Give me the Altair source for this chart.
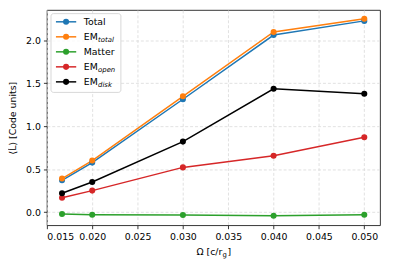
import altair as alt
import pandas as pd

# ---- data ----
omega = [0.01667, 0.020, 0.030, 0.040, 0.050]
total = [0.370, 0.576, 1.313, 2.060, 2.225]
em_total = [0.390, 0.600, 1.347, 2.096, 2.250]
matter = [-0.023, -0.030, -0.034, -0.042, -0.030]
em_open = [0.167, 0.250, 0.520, 0.656, 0.870]
em_disk = [0.220, 0.350, 0.820, 1.435, 1.378]

series_names = ["Total", "EM_total", "Matter", "EM_open", "EM_disk"]
series_main = ["Total", "EM", "Matter", "EM", "EM"]
series_sub = ["", "total", "", "open", "disk"]
series_colors = ["#1f77b4", "#ff7f0e", "#2ca02c", "#d62728", "#000000"]

x_ticks = [0.015, 0.020, 0.025, 0.030, 0.035, 0.040, 0.045, 0.050]
y_ticks = [0.0, 0.5, 1.0, 1.5, 2.0]

FONT = "DejaVu Sans"
W, H = 338.5, 218.7

rows = []
for name, vals in zip(series_names, [total, em_total, matter, em_open, em_disk]):
    for o, v in zip(omega, vals):
        rows.append({"series": name, "omega": o, "L": v, "order": series_names.index(name)})
df = pd.DataFrame(rows)

color = alt.Color("series:N", scale=alt.Scale(domain=series_names, range=series_colors), legend=None)

x_enc = alt.X("omega:Q", scale=alt.Scale(domain=[0.015, 0.05174], nice=False, zero=False),
              axis=alt.Axis(values=x_ticks, format=".3f", title=None, grid=True))
y_enc = alt.Y("L:Q", scale=alt.Scale(domain=[-0.1535, 2.3517], nice=False, zero=False),
              axis=alt.Axis(values=y_ticks, format=".1f", title="⟨L̇⟩ [Code units]",
                            titleX=-34.5, titleY=H / 2, titleAngle=-90,
                            titleAlign="center", titleBaseline="middle", grid=True))

base = alt.Chart(df)
lines = base.mark_line(strokeWidth=1.5).encode(x=x_enc, y=y_enc, color=color, detail="series:N")
points = base.mark_point(filled=True, size=38, opacity=1, shape="circle").encode(
    x="omega:Q", y="L:Q", color=color, order="order:Q")

# ---- legend built by hand (for mixed sub-scripted labels) ----
leg = pd.DataFrame({"series": series_names, "main": series_main, "sub": series_sub,
                    "row": list(range(len(series_names)))})
lbase = alt.Chart(leg).transform_calculate(ly="12 + datum.row * 15.25",
                                           ly_t="12 + datum.row * 15.25 + 3.4",
                                           ly_s="12 + datum.row * 15.25 + 5.6")
box = alt.Chart(pd.DataFrame({"a": [0]})).mark_rect(
    fill="white", fillOpacity=0.8, stroke="#cccccc", strokeWidth=0.8, cornerRadius=2.5
).encode(x=alt.value(4.2), x2=alt.value(75.2), y=alt.value(3.7), y2=alt.value(83.7))
lrule = lbase.mark_rule(strokeWidth=1.5).encode(
    x=alt.value(9.2), x2=alt.value(29.8), y=alt.Y("ly:Q", scale=None), color=color)
lpt = lbase.mark_point(filled=True, size=38, opacity=1, shape="circle").encode(
    x=alt.value(19.5), y=alt.Y("ly:Q", scale=None), color=color)
ltxt = lbase.mark_text(align="left", baseline="alphabetic", font=FONT, fontSize=9.5, color="#000").encode(
    x=alt.value(37.5), y=alt.Y("ly_t:Q", scale=None), text="main:N")
lsub = lbase.mark_text(align="left", baseline="alphabetic", font=FONT, fontSize=7,
                       fontStyle="italic", color="#000").encode(
    x=alt.value(52), y=alt.Y("ly_s:Q", scale=None), text="sub:N")

# ---- x-axis title with subscript ----
one = pd.DataFrame({"a": [0]})
xt1 = alt.Chart(one).mark_text(text="Ω [c/r", align="right", baseline="alphabetic",
                               font=FONT, fontSize=9.5, color="#000").encode(
    x=alt.value(178.2), y=alt.value(H + 30.5))
xt2 = alt.Chart(one).mark_text(text="g", align="left", baseline="alphabetic",
                               font=FONT, fontSize=7, color="#000").encode(
    x=alt.value(178.4), y=alt.value(H + 32.5))
xt3 = alt.Chart(one).mark_text(text="]", align="left", baseline="alphabetic",
                               font=FONT, fontSize=9.5, color="#000").encode(
    x=alt.value(183.6), y=alt.value(H + 30.5))

chart = alt.layer(lines, points, box, lrule, lpt, ltxt, lsub, xt1, xt2, xt3).properties(
    width=W, height=H, autosize="none",
    padding={"left": 39.5, "top": 0, "right": 5, "bottom": 38},
).configure(font=FONT
).configure_view(stroke="#000000", strokeWidth=0.8
).configure_axis(
    domain=False, tickColor="#000", tickSize=3.5, tickWidth=0.8,
    labelFont=FONT, labelFontSize=9.5, labelColor="#000", labelPadding=3,
    titleFont=FONT, titleFontSize=9.5, titleColor="#000", titleFontWeight="normal",
    gridColor="#d9d9d9", gridDash=[3, 2], gridWidth=0.8,
)

chart.save("out.html", embed_options={"renderer": "svg", "actions": False})
